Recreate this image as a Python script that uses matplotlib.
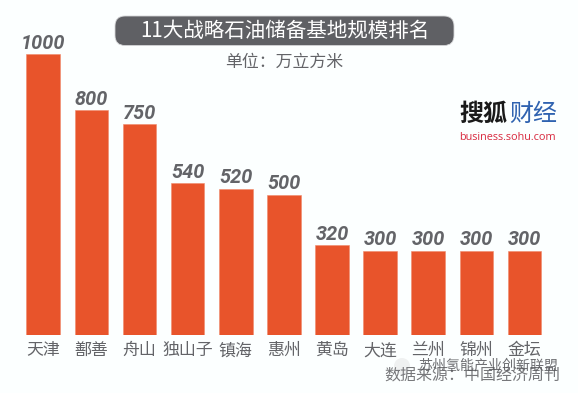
import matplotlib
matplotlib.use('Agg')
import matplotlib.pyplot as plt
from matplotlib.patches import FancyBboxPatch, Circle

plt.rcParams['font.family'] = ['Noto Sans CJK SC', 'DejaVu Sans']

cities = ['天津', '鄯善', '舟山', '独山子', '镇海', '惠州', '黄岛', '大连', '兰州', '锦州', '金坛']
values = [1000, 800, 750, 540, 520, 500, 320, 300, 300, 300, 300]
title = '11大战略石油储备基地规模排名'
unit = '单位：万立方米'
source = '数据来源：中国经济周刊'
watermark = '苏州氢能产业创新联盟'

W, H = 578, 393
BG = '#FCFFFF'
GREY = '#636468'
fig = plt.figure(figsize=(W / 100, H / 100), dpi=100, facecolor=BG)

# full-figure overlay in pixel coordinates (top-left origin) for decoration
ov = fig.add_axes([0, 0, 1, 1], zorder=0)
ov.set_xlim(0, W); ov.set_ylim(H, 0); ov.axis('off')

ax = fig.add_axes([19.2 / W, (H - 335) / H, 529.4 / W, 281 / H], zorder=1)
ax.patch.set_alpha(0)
ax.bar(range(len(values)), values, width=0.70, color='#E8542B', edgecolor='#F08A6C', linewidth=0.4)
ax.set_xlim(-0.5, len(values) - 0.5)
ax.set_ylim(0, 1000)
ax.set_xticks(range(len(values)))
ax.set_xticklabels(cities, fontsize=12.2, color=GREY, fontweight='light')
ax.tick_params(axis='x', length=0, pad=4.5)
ax.set_yticks([])
for s in ax.spines.values():
    s.set_visible(False)
for i, v in enumerate(values):
    ax.annotate(str(v), (i, v), xytext=(0, 1.0), textcoords='offset points', ha='center', va='bottom',
                fontsize=14.3, fontweight='bold', fontstyle='italic', color=GREY,
                family='Roboto', annotation_clip=False)

ov.add_patch(FancyBboxPatch((115, 16), 339, 29.5, boxstyle='round,pad=0,rounding_size=10',
                            fc='#5F6064', ec='#D5D6D8', lw=0.6))
ov.text(285, 31, title, ha='center', va='center', fontsize=14.8, color='white', fontweight='light')
ov.text(284, 62, unit, ha='center', va='center', fontsize=12.2, color=GREY, fontweight='light')

ov.text(459, 114, '搜狐', ha='left', va='center', fontsize=17.3, color='#1A1A1A', fontweight='bold')
ov.text(509, 114, '财经', ha='left', va='center', fontsize=17.3, color='#2F62B0')
ov.text(459, 138, 'business.sohu.com', ha='left', va='center', fontsize=7.8, color='#D8293E',
        family='Open Sans')

# watermark over the source line
ov.text(560, 376, source, ha='right', va='center', fontsize=11.5, color='#77787B', zorder=3)
ov.text(558, 365.5, watermark, ha='right', va='center', fontsize=10.1, color='#55565A', alpha=0.85, zorder=4)
ov.add_patch(Circle((402, 366), 8, fc='#ECEEEE', ec='none', alpha=0.8, zorder=2))

fig.savefig('out.png', dpi=100, facecolor=BG)
